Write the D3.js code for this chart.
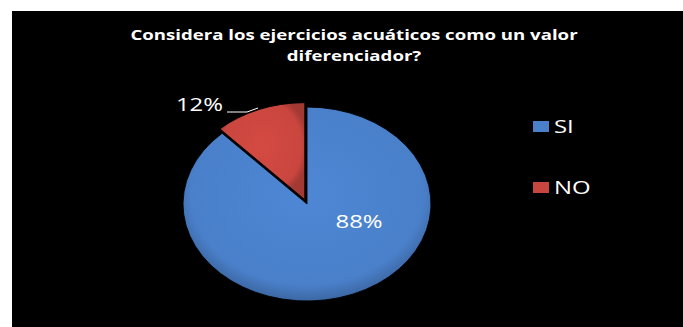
<!DOCTYPE html>
<html lang="es">
<head>
<meta charset="utf-8">
<title>Ejercicios acuaticos</title>
<style>
  html, body { margin: 0; padding: 0; background: #fff; }
  svg { display: block; }
  text { font-family: "Open Sans", "DejaVu Sans", sans-serif; fill: #fff; }
</style>
</head>
<body>
<svg id="chart" width="683" height="327"></svg>
<script src="https://cdn.jsdelivr.net/npm/d3@7"></script>
<script>
// data
var categorias = ["SI", "NO"];
var valores = [88, 12];
var colores = ["#4a80ca", "#c9463f"];
var titulo = ["Considera los ejercicios acuáticos como un valor", "diferenciador?"];

var svg = d3.select("#chart");
var stretch = 1.33; // the original picture is widened sideways

function place(x, y) {
  return "translate(" + x + "," + y + ") scale(" + stretch + ",1)";
}

// black panel
svg.append("rect")
  .attr("x", 12).attr("y", 11)
  .attr("width", 671).attr("height", 316)
  .attr("fill", "#000");

// gradients for a bit of shading like the original
var defs = svg.append("defs");
colores.forEach(function(c, i) {
  var g = defs.append("radialGradient")
    .attr("id", "grad" + i)
    .attr("cx", "50%").attr("cy", "45%").attr("r", "55%");
  g.append("stop").attr("offset", "0%").attr("stop-color", d3.color(c).brighter(0.15));
  g.append("stop").attr("offset", "85%").attr("stop-color", c);
  g.append("stop").attr("offset", "100%").attr("stop-color", d3.color(c).darker(0.6));
});

// title
svg.append("g").selectAll("text")
  .data(titulo)
  .enter().append("text")
  .attr("transform", function(d, i) { return place(354, 40 + i * 21); })
  .attr("text-anchor", "middle")
  .attr("font-size", 14)
  .attr("font-weight", "bold")
  .text(function(d) { return d; });

// pie (drawn round, then squashed into an ellipse)
var cx = 307, cy = 204, rx = 124, ry = 97;
var pie = d3.pie().sort(null).value(function(d) { return d; });
var arcs = pie(valores);
var arc = d3.arc().innerRadius(0).outerRadius(rx);
var explode = 6;

var pieG = svg.append("g")
  .attr("transform", "translate(" + cx + "," + cy + ") scale(1," + (ry / rx) + ")");

pieG.selectAll("path")
  .data(arcs)
  .enter().append("path")
  .attr("d", arc)
  .attr("fill", function(d, i) { return "url(#grad" + i + ")"; })
  .attr("stroke", "#000")
  .attr("stroke-width", 1)
  .attr("transform", function(d, i) {
    if (i === 0) return null;
    var a = (d.startAngle + d.endAngle) / 2;
    return "translate(" + (Math.sin(a) * explode) + "," + (-Math.cos(a) * explode) + ")";
  });

var pct = d3.format(".0%");

// 88% label inside
svg.append("text")
  .attr("transform", place(cx + rx * 0.42, cy + ry * 0.25))
  .attr("text-anchor", "middle")
  .attr("font-size", 18)
  .text(pct(valores[0] / d3.sum(valores)));

// 12% label outside with leader line
svg.append("polyline")
  .attr("points", "227,112 247,112 258,108")
  .attr("fill", "none")
  .attr("stroke", "#fff")
  .attr("stroke-width", 1);
svg.append("text")
  .attr("transform", place(223, 111))
  .attr("text-anchor", "end")
  .attr("font-size", 18)
  .text(pct(valores[1] / d3.sum(valores)));

// legend
var leg = svg.append("g").selectAll("g")
  .data(categorias)
  .enter().append("g")
  .attr("transform", function(d, i) { return "translate(533," + (126 + i * 61) + ")"; });
leg.append("rect")
  .attr("x", 0).attr("y", -5)
  .attr("width", 16).attr("height", 11)
  .attr("fill", function(d, i) { return colores[i]; });
leg.append("text")
  .attr("transform", place(21, 7))
  .attr("font-size", 18)
  .text(function(d) { return d; });
</script>
</body>
</html>
